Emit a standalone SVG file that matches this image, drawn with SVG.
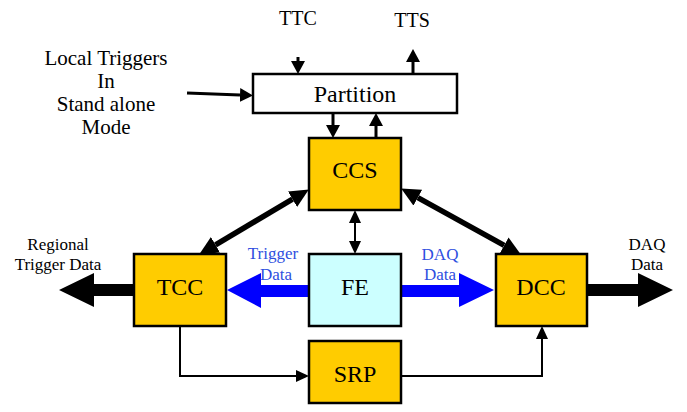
<svg xmlns="http://www.w3.org/2000/svg" width="687" height="412" viewBox="0 0 687 412" font-family="Liberation Serif, Times New Roman, serif">
<style>
.box{stroke:#000;stroke-width:2.5}
.o{fill:#FFCC00}
.t{font-family:"Liberation Serif","Times New Roman",serif;text-anchor:middle;fill:#000}
.big{font-size:24px}
.lbl{font-size:20px}
.lt{font-size:21px}
.sm{font-size:17px}
.blue{fill:#2F4FE0}
.thin{fill:none;stroke:#000;stroke-width:2}
.mid{fill:none;stroke:#000;stroke-width:3}
.thick{fill:none;stroke:#000;stroke-width:5.5}
</style>
<defs>
<marker id="hb" markerUnits="userSpaceOnUse" markerWidth="20" markerHeight="18" refX="0" refY="9" orient="auto-start-reverse" viewBox="0 0 20 18"><path d="M0,0 L19,9 L0,18 z" fill="#000"/></marker>
<marker id="hm" markerUnits="userSpaceOnUse" markerWidth="14" markerHeight="16" refX="0" refY="8" orient="auto-start-reverse" viewBox="0 0 14 16"><path d="M0,1 L13,8 L0,15 z" fill="#000"/></marker>
<marker id="hs" markerUnits="userSpaceOnUse" markerWidth="14" markerHeight="14" refX="0" refY="7" orient="auto-start-reverse" viewBox="0 0 14 14"><path d="M0,1 L13,7 L0,13 z" fill="#000"/></marker>
</defs>
<g id="connectors">
<line class="mid" x1="298" y1="57" x2="298" y2="61" marker-end="url(#hm)"/>
<line class="mid" x1="413" y1="73" x2="413" y2="62" marker-end="url(#hm)"/>
<line class="mid" x1="187" y1="93" x2="240" y2="95" marker-end="url(#hm)"/>
<line class="mid" x1="333" y1="113" x2="333" y2="125" marker-end="url(#hm)"/>
<line class="mid" x1="376" y1="138" x2="376" y2="126" marker-end="url(#hm)"/>
<line class="thick" x1="215.5" y1="244.8" x2="292.5" y2="199.2" marker-start="url(#hb)" marker-end="url(#hb)"/>
<line class="thick" x1="417.8" y1="197.7" x2="504.2" y2="245.3" marker-start="url(#hb)" marker-end="url(#hb)"/>
<line class="thin" x1="355" y1="223" x2="355" y2="241" marker-start="url(#hs)" marker-end="url(#hs)"/>
<polyline class="thin" points="180,326 180,376 296,376" marker-end="url(#hs)"/>
<polyline class="thin" points="401,376 542,376 542,339" marker-end="url(#hs)"/>
<polygon fill="#000" points="134,284 94,284 94,273 59,290 94,307 94,296 134,296"/>
<polygon fill="#000" points="587,284 638,284 638,273 673,290 638,307 638,296 587,296"/>
<polygon fill="#0000FF" points="309,285 261,285 261,273 227,290 261,308 261,297 309,297"/>
<polygon fill="#0000FF" points="401,285 459,285 459,273 494,290 459,307 459,297 401,297"/>
</g>
<g id="labels">
<text class="t lbl" x="298" y="25">TTC</text>
<text class="t lbl" x="412" y="27">TTS</text>
<text class="t lt" x="106" y="65">Local Triggers</text>
<text class="t lt" x="106" y="88">In</text>
<text class="t lt" x="106" y="111">Stand alone</text>
<text class="t lt" x="106" y="134">Mode</text>
<text class="t sm" x="58" y="250">Regional</text>
<text class="t sm" x="58" y="270">Trigger Data</text>
<text class="t sm" x="647" y="250">DAQ</text>
<text class="t sm" x="647" y="270">Data</text>
</g>
<g id="partition"><rect class="box" x="253" y="74" width="204" height="39" fill="#fff"/><text class="t big" x="355" y="102">Partition</text></g>
<g id="ccs"><rect class="box o" x="309" y="138" width="92" height="72"/><text class="t big" x="355" y="178">CCS</text></g>
<g id="tcc"><rect class="box o" x="134" y="254" width="92" height="72"/><text class="t big" x="180" y="295">TCC</text></g>
<g id="fe"><rect class="box" x="309" y="254" width="92" height="72" fill="#CCFFFF"/><text class="t big" x="355" y="295">FE</text></g>
<g id="dcc"><rect class="box o" x="496" y="254" width="91" height="72"/><text class="t big" x="541" y="295">DCC</text></g>
<g id="srp"><rect class="box o" x="309" y="341" width="92" height="62"/><text class="t big" x="355" y="382">SRP</text></g>
<g id="blue-labels">
<text class="t sm blue" x="273" y="259">Trigger</text>
<text class="t sm blue" x="276" y="280">Data</text>
<text class="t sm blue" x="440" y="260">DAQ</text>
<text class="t sm blue" x="440" y="280">Data</text>
</g>
</svg>
